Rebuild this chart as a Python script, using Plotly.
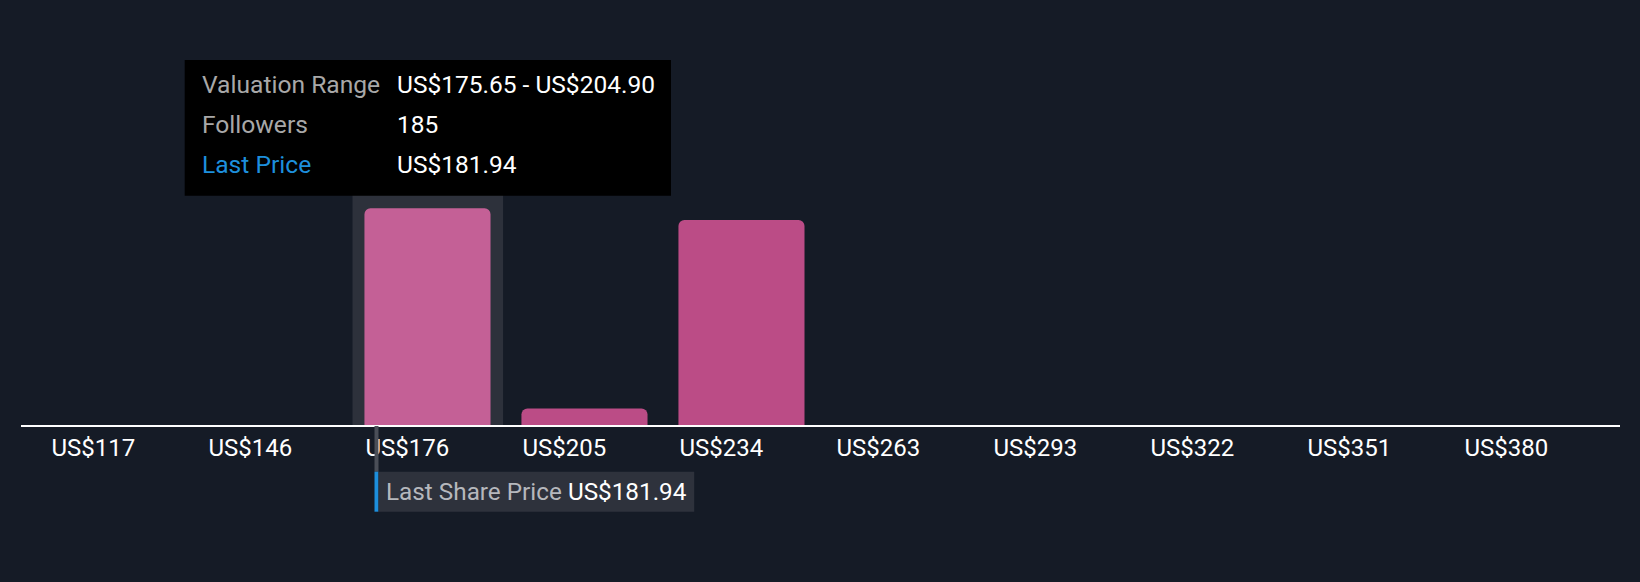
import plotly.graph_objects as go

# ---- data ----
bin_starts = [117.15, 146.40, 175.65, 204.90, 234.15, 263.40, 292.65, 321.90, 351.15, 380.40]
followers = [0, 0, 185, 14, 175, 0, 0, 0, 0, 0]
tick_labels = ["US$117", "US$146", "US$176", "US$205", "US$234", "US$263",
               "US$293", "US$322", "US$351", "US$380"]
bin_width = 29.25
last_price = 181.94
highlight_index = 2
tooltip_labels = ["Valuation Range", "Followers", "Last Price"]
tooltip_values = ["US$175.65 - US$204.90", "185", "US$181.94"]

# ---- styling / layout constants ----
W, H = 1640, 582
ML, MR, MT, MB = 21, 20, 60, 157
BG = "#151b26"
BAR = "#bb4c86"
BAR_HL = "#c46096"
HL_BG = "#2d313b"
FONT = "Roboto"

plot_w = W - ML - MR
plot_h = H - MT - MB


def px_x(px):
    return (px - ML) / plot_w


def px_y(py):
    return (H - MB - py) / plot_h


bar_offset = 0.151 * bin_width
bar_w = 0.803 * bin_width

colors = [BAR_HL if i == highlight_index else BAR for i in range(len(bin_starts))]

fig = go.Figure()
fig.add_trace(go.Bar(
    x=bin_starts, y=followers,
    offset=bar_offset, width=bar_w,
    marker=dict(color=colors, cornerradius=6, line=dict(width=0)),
    hoverinfo="skip",
))

shapes = []
hs = bin_starts[highlight_index]
shapes.append(dict(type="rect", layer="below", xref="x", yref="paper",
                   x0=hs + 0.075 * bin_width, x1=hs + 1.034 * bin_width,
                   y0=0, y1=0.7, fillcolor=HL_BG, line=dict(width=0)))
shapes.append(dict(type="rect", xref="x", yref="paper", xsizemode="pixel",
                   xanchor=last_price, x0=0, x1=4,
                   y0=px_y(426), y1=px_y(471.7), fillcolor="#4a4e57", line=dict(width=0)))
shapes.append(dict(type="rect", xref="x", yref="paper", xsizemode="pixel",
                   xanchor=last_price, x0=0, x1=4,
                   y0=px_y(471.7), y1=px_y(511.7), fillcolor="#1d8fdc", line=dict(width=0)))
shapes.append(dict(type="rect", xref="x", yref="paper", xsizemode="pixel",
                   xanchor=last_price, x0=4, x1=694 - 374.3,
                   y0=px_y(471.7), y1=px_y(511.7), fillcolor="#2e323c", line=dict(width=0)))
shapes.append(dict(type="rect", layer="above", xref="paper", yref="paper",
                   x0=px_x(184.7), x1=px_x(671), y0=px_y(195.7), y1=px_y(60),
                   fillcolor="#000000", line=dict(width=0)))

annotations = []
annotations.append(dict(
    xref="x", yref="paper", x=last_price, xshift=9, xanchor="left",
    y=px_y(491.7), yanchor="middle", showarrow=False,
    text="<span style='color:#b6b8bd'>Last Share Price</span> <span style='color:#ffffff'>US$181.94</span>",
    font=dict(family=FONT, size=24.3, color="#ffffff"),
))
row_centers = [84.5, 124.5, 164.5]
for i, (lab, val) in enumerate(zip(tooltip_labels, tooltip_values)):
    annotations.append(dict(
        xref="paper", yref="paper", x=px_x(199.5), xanchor="left",
        y=px_y(row_centers[i]), yanchor="middle", showarrow=False, text=lab,
        font=dict(family=FONT, size=24.6, color="#1d8fdc" if lab == "Last Price" else "#a8a8a8"),
    ))
    annotations.append(dict(
        xref="paper", yref="paper", x=px_x(394.8), xanchor="left",
        y=px_y(row_centers[i]), yanchor="middle", showarrow=False, text=val,
        font=dict(family=FONT, size=24.5, color="#ffffff"),
    ))

xmin = last_price + (ML - 374.5) / 5.3675
xmax = last_price + (W - MR - 374.5) / 5.3675
ymax = 185 * plot_h / (425 - 208.3)

fig.update_layout(
    width=W, height=H,
    margin=dict(l=ML, r=MR, t=MT, b=MB, pad=0),
    paper_bgcolor=BG, plot_bgcolor=BG,
    showlegend=False,
    shapes=shapes, annotations=annotations,
    font=dict(family=FONT, color="#ffffff"),
    xaxis=dict(
        range=[xmin, xmax], showgrid=False, zeroline=False,
        showline=True, linecolor="#ffffff", linewidth=2,
        tickvals=[s + bar_offset for s in bin_starts], ticktext=tick_labels,
        ticklabelposition="outside right", ticks="",
        tickfont=dict(family=FONT, size=24, color="#ffffff"),
        fixedrange=True,
    ),
    yaxis=dict(range=[0, ymax], visible=False, fixedrange=True),
)

fig.write_html("out.html", config={"displayModeBar": False},
               post_script="document.body.style.margin='0';document.body.style.background='#151b26';")
